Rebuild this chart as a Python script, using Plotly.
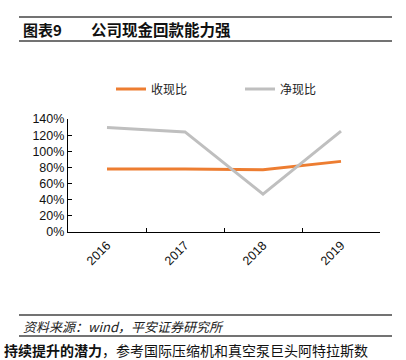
import plotly.graph_objects as go

years = ["2016", "2017", "2018", "2019"]
shouxian = [78, 78, 77, 87.5]   # 收现比 (%)
jingxian = [129.5, 124, 47, 125]  # 净现比 (%)
y_ticks = [0, 20, 40, 60, 80, 100, 120, 140]
y_ticklabels = [f"{v}%" for v in y_ticks]

W, H = 406, 360
L, R, T, B = 68, 380, 119, 232

def xp(x):
    return (x - L) / (R - L)

def yp(y):
    return (B - y) / (B - T)

fig = go.Figure()
fig.add_trace(go.Scatter(x=years, y=shouxian, mode="lines", name="收现比",
                         line=dict(color="#ED7D31", width=3)))
fig.add_trace(go.Scatter(x=years, y=jingxian, mode="lines", name="净现比",
                         line=dict(color="#BFBFBF", width=3)))

cjk = "Noto Sans CJK SC"
lat = "Liberation Sans, Arial"

shapes = []
for y in (17, 41, 315, 336):
    shapes.append(dict(type="line", xref="paper", yref="paper",
                       x0=xp(19), x1=xp(392), y0=yp(y), y1=yp(y),
                       line=dict(color="#444444", width=1.5)))

annotations = [
    dict(text="<b>图表9</b>", x=xp(21), y=yp(29), xref="paper", yref="paper",
         xanchor="left", yanchor="middle", showarrow=False,
         font=dict(family=cjk, size=15, color="#111111")),
    dict(text="<b>公司现金回款能力强</b>", x=xp(89), y=yp(29), xref="paper", yref="paper",
         xanchor="left", yanchor="middle", showarrow=False,
         font=dict(family=cjk, size=15.5, color="#111111")),
    dict(text="<i>资料来源：wind，平安证券研究所</i>", x=xp(21), y=yp(326), xref="paper", yref="paper",
         xanchor="left", yanchor="middle", showarrow=False,
         font=dict(family=cjk, size=13, color="#222222")),
    dict(text="<b>持续提升的潜力</b>，参考国际压缩机和真空泵巨头阿特拉斯数", x=xp(2), y=yp(350), xref="paper", yref="paper",
         xanchor="left", yanchor="middle", showarrow=False,
         font=dict(family=cjk, size=14, color="#111111")),
]

fig.update_layout(
    width=W, height=H,
    margin=dict(l=L, r=W - R, t=T, b=H - B, pad=0),
    paper_bgcolor="white", plot_bgcolor="white",
    showlegend=True,
    legend=dict(orientation="h", x=xp(111), y=yp(89), xanchor="left", yanchor="middle",
                font=dict(family=cjk, size=12, color="#222222"),
                itemwidth=30, tracegroupgap=0, entrywidthmode="pixels", entrywidth=84,
                bgcolor="rgba(0,0,0,0)"),
    xaxis=dict(type="category", range=[-0.5, 3.5], showline=True, linecolor="black", linewidth=1.2,
               ticks="inside", tickson="boundaries", ticklen=4, tickcolor="black",
               tickangle=-45, showgrid=False, zeroline=False,
               tickfont=dict(family=lat, size=12.5, color="#111111")),
    yaxis=dict(range=[0, 140], tickvals=y_ticks, ticktext=y_ticklabels,
               showline=True, linecolor="black", linewidth=1.2,
               ticks="inside", ticklen=4, tickcolor="black",
               showgrid=False, zeroline=False,
               tickfont=dict(family=lat, size=12.5, color="#111111")),
    shapes=shapes, annotations=annotations,
)

fig.write_html("out.html", config={"displayModeBar": False},
               post_script="document.body.style.margin='0px';document.body.style.overflow='hidden';")
